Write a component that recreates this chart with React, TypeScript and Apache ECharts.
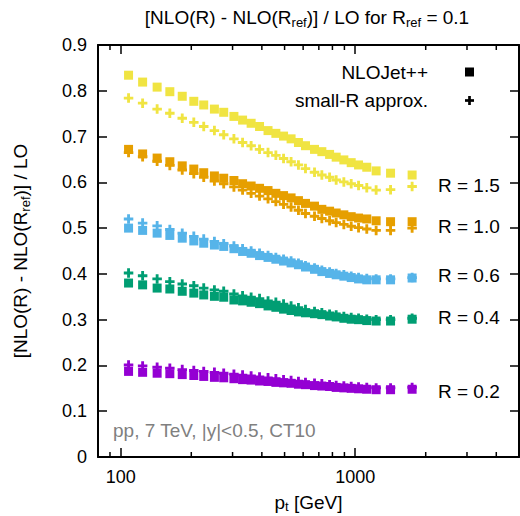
import React, { useEffect, useRef } from 'react';
import * as echarts from 'echarts';

// p_t bin positions (GeV)
const pt = [108, 124, 143, 162, 183, 205, 226, 251, 275, 304, 331, 360, 391, 425, 459, 495, 533, 573, 614, 671, 721, 778, 830, 895, 962, 1034, 1121, 1229, 1416, 1750];

// NLOJet++ (squares)
const nloR15 = [0.834, 0.819, 0.808, 0.798, 0.788, 0.777, 0.769, 0.760, 0.753, 0.744, 0.736, 0.729, 0.722, 0.713, 0.707, 0.701, 0.695, 0.687, 0.680, 0.672, 0.667, 0.661, 0.655, 0.649, 0.643, 0.638, 0.633, 0.625, 0.620, 0.616];
const nloR10 = [0.672, 0.662, 0.653, 0.645, 0.636, 0.629, 0.621, 0.614, 0.609, 0.604, 0.597, 0.592, 0.587, 0.582, 0.576, 0.571, 0.566, 0.560, 0.554, 0.548, 0.541, 0.537, 0.533, 0.529, 0.525, 0.522, 0.520, 0.516, 0.514, 0.514];
const nloR06 = [0.500, 0.495, 0.489, 0.484, 0.478, 0.472, 0.467, 0.463, 0.460, 0.455, 0.449, 0.445, 0.440, 0.436, 0.432, 0.428, 0.424, 0.420, 0.415, 0.410, 0.405, 0.401, 0.398, 0.395, 0.392, 0.389, 0.387, 0.387, 0.387, 0.391];
const nloR04 = [0.380, 0.376, 0.369, 0.367, 0.362, 0.358, 0.354, 0.351, 0.349, 0.343, 0.341, 0.338, 0.335, 0.330, 0.327, 0.323, 0.320, 0.317, 0.315, 0.313, 0.311, 0.308, 0.306, 0.303, 0.301, 0.300, 0.298, 0.297, 0.297, 0.301];
const nloR02 = [0.187, 0.185, 0.183, 0.182, 0.180, 0.178, 0.176, 0.174, 0.173, 0.171, 0.169, 0.168, 0.166, 0.165, 0.163, 0.162, 0.161, 0.159, 0.158, 0.156, 0.155, 0.154, 0.152, 0.151, 0.150, 0.149, 0.148, 0.147, 0.147, 0.148];

// small-R approximation (crosses)
const apxR15 = [0.784, 0.773, 0.760, 0.751, 0.740, 0.731, 0.722, 0.713, 0.704, 0.695, 0.687, 0.680, 0.672, 0.665, 0.659, 0.652, 0.645, 0.638, 0.630, 0.622, 0.616, 0.611, 0.605, 0.601, 0.597, 0.593, 0.588, 0.583, 0.584, 0.591];
const apxR10 = [0.665, 0.656, 0.646, 0.637, 0.627, 0.619, 0.611, 0.603, 0.597, 0.590, 0.583, 0.576, 0.570, 0.564, 0.558, 0.552, 0.546, 0.539, 0.532, 0.526, 0.521, 0.516, 0.512, 0.508, 0.504, 0.501, 0.498, 0.495, 0.495, 0.500];
const apxR06 = [0.520, 0.511, 0.505, 0.497, 0.489, 0.482, 0.476, 0.471, 0.466, 0.461, 0.455, 0.450, 0.445, 0.440, 0.436, 0.432, 0.428, 0.423, 0.418, 0.413, 0.408, 0.404, 0.401, 0.398, 0.395, 0.392, 0.390, 0.389, 0.389, 0.392];
const apxR04 = [0.402, 0.396, 0.389, 0.383, 0.378, 0.374, 0.369, 0.365, 0.362, 0.356, 0.352, 0.349, 0.346, 0.341, 0.338, 0.334, 0.330, 0.326, 0.322, 0.318, 0.315, 0.312, 0.310, 0.307, 0.305, 0.303, 0.301, 0.300, 0.300, 0.303];
const apxR02 = [0.201, 0.199, 0.196, 0.194, 0.191, 0.189, 0.187, 0.185, 0.183, 0.181, 0.179, 0.177, 0.175, 0.173, 0.171, 0.169, 0.167, 0.165, 0.163, 0.161, 0.160, 0.158, 0.156, 0.155, 0.154, 0.153, 0.152, 0.151, 0.151, 0.152];

const rLabels = ['R = 1.5', 'R = 1.0', 'R = 0.6', 'R = 0.4', 'R = 0.2'];
const xMajorTickLabels = [100, 1000];
const xMinorTicks = [90, 200, 300, 400, 500, 600, 700, 800, 900, 2000, 3000, 4000];

const FONT = '"Liberation Sans", Arial, Helvetica, sans-serif';
const COLORS = ['#F0E442', '#E69F00', '#56B4E9', '#009E73', '#9400D3'];
const PLUS = 'path://M3.5,0H6.5V3.5H10V6.5H6.5V10H3.5V6.5H0V3.5H3.5Z';

const groups = [
  { nlo: nloR15, apx: apxR15 },
  { nlo: nloR10, apx: apxR10 },
  { nlo: nloR06, apx: apxR06 },
  { nlo: nloR04, apx: apxR04 },
  { nlo: nloR02, apx: apxR02 },
];

const labelY = [185, 226, 275, 317, 391];

export default function App() {
  const ref = useRef<HTMLDivElement>(null);
  useEffect(() => {
    if (!ref.current) return;
    const chart = echarts.init(ref.current, undefined, { renderer: 'svg' });
    const rich = {
      a: { fontFamily: FONT, fontSize: 19, color: '#000' },
      s: { fontFamily: FONT, fontSize: 13, color: '#000', padding: [11, 0, 0, 0] },
    };
    const richX = {
      a: { fontFamily: FONT, fontSize: 19, color: '#000', lineHeight: 22 },
      s: { fontFamily: FONT, fontSize: 13, color: '#000', padding: [8, 0, 0, 0] },
    };
    const series: any[] = [];
    groups.forEach((g, i) => {
      series.push({
        type: 'scatter', name: 'small-R approx. ' + rLabels[i],
        symbol: PLUS, symbolSize: 9.5,
        itemStyle: { color: COLORS[i], opacity: 1 },
        data: pt.map((x, k) => [x, g.apx[k]]),
        z: 2,
      });
      series.push({
        type: 'scatter', name: 'NLOJet++ ' + rLabels[i],
        symbol: 'rect', symbolSize: 9,
        itemStyle: { color: COLORS[i], opacity: 1 },
        data: pt.map((x, k) => [x, g.nlo[k]]),
        z: 3,
      });
    });
    series.push({
      type: 'custom', silent: true, clip: false, z: 5,
      xAxisIndex: 0, yAxisIndex: 0,
      data: xMinorTicks.map((v) => [v, 0]),
      encode: { x: 0, y: 1 },
      renderItem: (params: any, api: any) => {
        const v = api.value(0);
        const b = api.coord([v, 0]);
        const t = api.coord([v, 0.9]);
        return {
          type: 'group',
          children: [
            { type: 'line', shape: { x1: b[0], y1: b[1], x2: b[0], y2: b[1] - 5 }, style: { stroke: '#000', lineWidth: 1.5 } },
            { type: 'line', shape: { x1: t[0], y1: t[1], x2: t[0], y2: t[1] + 5 }, style: { stroke: '#000', lineWidth: 1.5 } },
          ],
        };
      },
    });

    const axisLine = { show: true, onZero: false, lineStyle: { color: '#000', width: 2 } };
    const axisTick = { show: true, inside: true, length: 9, lineStyle: { color: '#000', width: 1.5 } };
    const txt = { fontFamily: FONT, fontSize: 19, fill: '#000', verticalAlign: 'middle' };

    const graphic: any[] = [
      {
        type: 'text', x: 307, y: 17,
        style: {
          text: '{a|[NLO(R) - NLO(R}{s|ref}{a|)] / LO for R}{s|ref}{a| = 0.1}',
          rich, align: 'center', verticalAlign: 'middle',
        },
      },
      { type: 'text', x: 428, y: 72, style: { ...txt, text: 'NLOJet++', align: 'right' } },
      { type: 'text', x: 428, y: 100.5, style: { ...txt, text: 'small-R approx.', align: 'right' } },
      { type: 'rect', shape: { x: 465, y: 67.5, width: 9, height: 9 }, style: { fill: '#000' } },
      { type: 'rect', shape: { x: 465, y: 99.15, width: 9, height: 2.7 }, style: { fill: '#000' } },
      { type: 'rect', shape: { x: 468.15, y: 96, width: 2.7, height: 9 }, style: { fill: '#000' } },
      { type: 'text', x: 113, y: 430, style: { ...txt, text: 'pp, 7 TeV, |y|<0.5, CT10', fill: '#808080', align: 'left' } },
    ];
    rLabels.forEach((t, i) => {
      graphic.push({ type: 'text', x: 438, y: labelY[i], style: { ...txt, text: t, align: 'left' } });
    });

    chart.setOption({
      animation: false,
      backgroundColor: '#fff',
      grid: { left: 98, top: 45, width: 421, height: 412, containLabel: false, outerBoundsMode: 'none' },
      xAxis: [
        {
          type: 'log', logBase: 10, min: 80, max: 5000, position: 'bottom',
          axisLine, axisTick,
          splitLine: { show: false },
          axisLabel: {
            color: '#000', fontSize: 18, fontFamily: FONT, margin: 11,
            showMinLabel: false, showMaxLabel: false,
            formatter: (v: number) => (xMajorTickLabels.some((m) => Math.abs(m - v) < 1e-6 * m) ? String(Math.round(v)) : ''),
          },
          name: '{a|p}{s|t}{a| [GeV]}',
          nameLocation: 'middle', nameGap: 34,
          nameTextStyle: { fontFamily: FONT, fontSize: 19, color: '#000', rich: richX },
        },
        {
          type: 'log', logBase: 10, min: 80, max: 5000, position: 'top',
          axisLine, axisTick, splitLine: { show: false }, axisLabel: { show: false },
        },
      ],
      yAxis: [
        {
          type: 'value', min: 0, max: 0.9, interval: 0.1, position: 'left',
          axisLine, axisTick, splitLine: { show: false },
          axisLabel: {
            color: '#000', fontSize: 18, fontFamily: FONT, margin: 11,
            formatter: (v: number) => (Math.abs(v) < 1e-9 ? '0' : v.toFixed(1)),
          },
          name: '{a|[NLO(R) - NLO(R}{s|ref}{a|)] / LO}',
          nameLocation: 'middle', nameGap: 66, nameRotate: 90,
          nameTextStyle: { fontFamily: FONT, fontSize: 19, color: '#000', rich },
        },
        {
          type: 'value', min: 0, max: 0.9, interval: 0.1, position: 'right',
          axisLine, axisTick, splitLine: { show: false }, axisLabel: { show: false },
        },
      ],
      series,
      graphic,
    });
    return () => chart.dispose();
  }, []);
  return <div ref={ref} style={{ position: 'absolute', left: 0, top: 0, width: 520, height: 516, background: '#fff' }} />;
}
